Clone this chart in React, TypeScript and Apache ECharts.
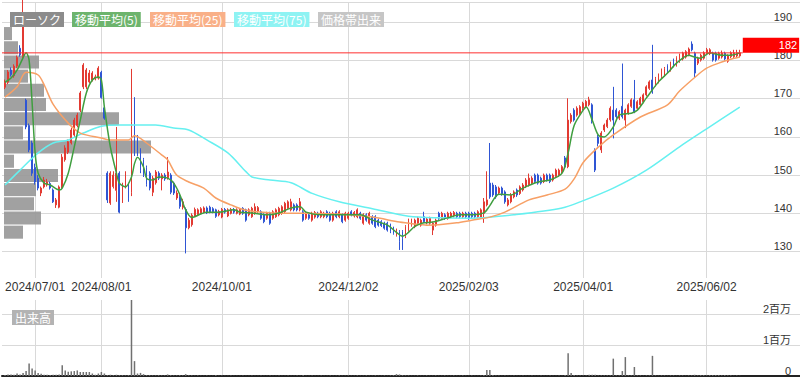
import React, { useEffect, useRef } from 'react';
import * as echarts from 'echarts';

// ---- calendar (TSE trading days) ----
const HOLIDAYS = [
  '2024/07/15', '2024/08/12', '2024/09/16', '2024/09/23', '2024/10/14', '2024/11/04',
  '2024/12/31', '2025/01/01', '2025/01/02', '2025/01/03', '2025/01/13', '2025/02/11',
  '2025/02/24', '2025/03/20', '2025/04/29', '2025/05/05', '2025/05/06',
];
const N_DAYS = 245;
const LABEL_DATES = ['2024/07/01', '2024/08/01', '2024/10/01', '2024/12/02', '2025/02/03', '2025/04/01', '2025/06/02'];

// ---- daily candles [open, close, low, high] ----
const ohlc: number[][] = [
  [173.0,174.3,172.5,175.0],[174.3,177.0,173.8,177.5],[177.5,176.3,175.8,178.2],[176.0,178.5,175.5,179.0],[178.5,180.8,178.0,181.3],
  [183.2,181.5,181.0,184.0],[181.0,188.8,180.5,199.0],[169.6,162.6,162.0,170.0],[163.0,156.6,156.0,163.5],[158.4,150.5,149.8,159.0],
  [152.0,148.2,147.5,153.0],[149.2,146.6,146.0,150.0],[145.3,146.6,144.5,147.0],[146.9,148.7,146.5,149.5],[147.4,148.2,147.0,149.0],
  [147.8,146.6,146.2,148.3],[146.1,143.0,142.7,146.5],[142.2,143.5,141.4,144.0],[141.6,146.9,141.3,147.3],[146.9,154.7,146.5,155.5],
  [154.0,157.1,153.5,157.8],[156.0,158.7,155.5,159.3],[158.4,161.8,158.0,162.4],[160.5,164.4,160.0,165.0],[163.0,165.7,162.5,166.3],
  [167.0,171.5,166.5,172.0],[173.1,178.8,172.5,179.3],[173.1,177.5,172.5,178.0],[174.4,176.7,174.0,177.5],[174.9,176.7,174.5,177.2],
  [175.2,175.7,174.8,176.3],[175.4,178.0,175.0,178.5],[176.9,170.3,170.0,177.3],[167.6,164.9,164.5,168.0],[150.5,143.5,142.7,151.0],
  [142.7,150.5,142.2,151.0],[147.0,150.0,146.5,151.0],[146.0,150.5,143.0,162.6],[150.5,140.3,140.0,151.0],[143.5,147.4,142.7,148.0],
  [146.9,150.5,146.5,151.0],[147.4,143.8,143.0,148.0],[145.5,164.0,144.5,177.8],[159.5,155.8,155.0,170.4],[159.8,155.8,155.0,160.5],
  [156.6,151.3,150.5,157.0],[154.0,150.0,149.5,154.5],[152.0,147.6,147.0,152.5],[150.5,146.6,146.0,151.0],[145.5,149.2,144.5,149.8],
  [148.0,150.8,147.5,151.3],[150.5,149.2,148.7,151.0],[149.0,150.0,146.0,150.5],[150.0,149.0,148.5,150.5],[149.3,150.8,148.8,154.7],
  [150.0,145.5,145.0,150.5],[147.9,145.3,144.8,148.3],[144.0,145.3,143.5,146.0],[144.3,141.8,141.2,144.8],[141.6,143.0,141.0,143.8],
  [141.0,136.2,129.5,141.5],[136.2,138.2,135.8,138.8],[137.0,139.5,136.5,140.0],[139.3,141.0,139.0,141.5],[139.6,140.9,139.3,141.3],
  [140.1,141.2,139.8,141.6],[140.3,141.4,140.0,141.8],[141.4,140.1,139.8,141.8],[141.6,140.3,140.0,142.0],[141.2,140.4,140.0,141.6],
  [140.9,139.2,138.8,141.2],[139.6,140.5,139.2,140.9],[139.0,141.0,138.7,141.4],[141.0,140.3,139.9,141.4],[139.3,140.9,139.0,141.3],
  [140.0,141.0,139.7,141.4],[141.0,140.3,139.9,141.4],[140.0,140.9,139.7,141.3],[139.8,141.0,139.5,141.4],[141.3,140.0,139.6,141.6],
  [140.9,138.2,137.8,141.2],[139.6,140.9,139.2,141.3],[139.1,141.3,138.8,141.7],[140.0,141.7,139.6,142.6],[140.5,141.5,140.1,141.9],
  [140.4,138.7,138.3,140.8],[139.6,137.8,137.4,140.0],[138.7,140.0,138.3,140.4],[140.0,137.4,137.0,140.4],[138.7,140.4,138.3,140.8],
  [139.1,140.9,138.8,141.3],[139.6,141.3,139.2,141.7],[140.0,141.7,139.6,142.1],[140.4,142.6,140.0,143.0],[141.3,143.0,140.9,143.4],
  [140.9,143.0,140.5,143.8],[142.2,140.9,140.5,142.6],[142.2,140.9,140.5,142.6],[140.9,143.0,140.5,144.0],[140.4,138.2,137.8,140.8],
  [138.7,140.0,138.3,140.4],[139.6,138.7,138.3,140.0],[138.2,140.0,137.8,140.4],[139.0,140.2,138.6,140.6],[140.0,139.1,138.7,140.4],
  [139.1,140.4,138.7,140.8],[139.1,140.0,138.7,140.4],[140.4,139.1,138.7,140.8],[140.0,138.2,137.8,140.4],[138.2,140.0,137.8,140.4],
  [140.4,139.1,138.7,140.8],[139.1,140.4,138.7,140.8],[139.6,137.8,137.4,140.0],[138.2,140.0,137.8,140.4],[138.7,140.0,138.3,140.4],
  [140.4,139.6,139.2,140.8],[139.3,140.2,138.9,140.6],[139.1,140.9,138.7,141.3],[140.0,138.7,138.3,140.4],[137.4,139.6,137.0,140.0],
  [139.6,138.2,137.8,140.0],[137.4,140.0,137.0,140.4],[139.1,137.4,137.0,139.5],[139.1,136.5,136.1,139.5],[138.2,136.9,136.5,138.6],
  [137.8,136.8,136.4,138.2],[137.4,136.1,135.7,137.8],[137.4,135.6,135.2,137.8],[136.9,135.2,134.8,137.3],[136.1,134.8,134.4,136.5],
  [134.3,135.6,133.9,136.0],[135.2,132.6,130.4,135.6],[135.2,133.5,130.4,135.6],[133.9,136.5,133.5,136.9],[135.6,138.2,135.2,138.6],
  [136.9,138.2,136.5,138.6],[136.5,138.2,136.1,138.6],[137.4,138.7,137.0,139.1],[136.9,138.2,136.5,138.6],[139.1,137.8,137.4,140.4],
  [137.5,138.5,137.1,138.9],[137.4,138.7,137.0,139.1],[135.6,137.4,134.3,137.8],[136.9,138.2,136.5,138.6],[140.0,138.7,138.3,140.4],
  [138.7,140.0,138.3,140.4],[139.6,138.7,138.3,140.0],[138.7,140.0,138.3,140.4],[139.1,140.0,138.7,140.4],[139.3,140.2,138.9,140.6],
  [140.0,139.1,138.7,140.4],[140.0,139.1,138.7,140.4],[139.1,140.0,138.7,140.4],[140.0,139.1,138.7,140.4],[140.0,138.7,138.3,140.4],
  [140.0,139.1,138.7,140.4],[140.0,139.1,138.7,140.4],[139.1,140.4,138.7,140.8],[139.0,140.9,138.6,141.3],[140.0,143.0,137.5,144.0],
  [142.2,143.5,141.8,151.0],[147.9,144.3,143.8,158.4],[147.4,144.8,144.3,148.0],[146.9,144.3,143.8,147.4],[145.3,146.6,144.8,147.0],
  [146.6,145.1,144.6,147.0],[145.6,143.0,142.5,146.0],[142.2,143.5,141.8,144.0],[143.0,144.8,142.6,145.3],[144.3,145.6,143.9,146.0],
  [146.1,144.8,144.3,146.5],[145.2,146.9,144.8,147.3],[146.1,147.4,145.7,147.9],[147.0,148.7,146.6,149.2],[147.4,149.2,147.0,150.4],
  [147.9,149.2,147.5,149.7],[150.0,148.3,147.9,150.4],[150.0,147.9,147.5,150.4],[149.2,147.9,147.5,149.6],[148.3,150.0,147.9,150.4],
  [150.0,148.7,148.3,150.4],[150.0,148.3,147.9,150.4],[148.7,150.0,148.3,150.4],[149.6,151.3,149.2,151.7],[150.0,151.3,149.6,151.7],
  [150.9,152.2,150.5,152.6],[154.5,152.1,151.8,155.0],[152.2,164.4,151.8,170.1],[164.0,165.7,163.5,166.2],[167.0,164.4,164.0,167.5],
  [165.7,167.5,165.3,168.0],[166.2,167.9,165.8,168.3],[167.5,168.8,167.0,169.2],[167.9,169.3,167.5,169.7],[168.4,169.7,168.0,170.5],
  [168.4,164.0,163.5,168.8],[156.6,151.3,150.8,157.0],[160.0,158.3,157.5,160.5],[156.6,161.0,155.8,161.5],[161.8,163.1,161.3,163.5],
  [162.7,164.4,162.3,164.9],[164.5,167.5,164.0,168.0],[167.0,164.4,159.6,173.1],[167.0,165.3,164.8,167.5],[164.9,166.6,164.4,167.0],
  [168.0,165.3,164.8,179.2],[164.4,167.0,162.3,167.4],[166.2,168.4,165.8,168.8],[168.0,169.7,167.6,170.1],[169.7,166.6,166.2,174.9],
  [167.5,169.2,167.1,169.6],[168.4,170.1,168.0,170.5],[169.2,171.0,168.8,171.4],[171.0,173.1,170.6,173.5],[172.7,174.4,172.3,174.8],
  [174.9,171.8,171.3,184.1],[173.6,175.3,173.2,175.7],[174.4,176.2,174.0,176.6],[175.8,177.5,175.4,177.9],[176.2,177.9,175.8,178.3],
  [178.6,177.1,176.7,179.0],[177.5,179.3,177.1,179.7],[180.1,178.6,178.2,180.5],[178.8,180.7,178.4,181.1],[179.8,181.4,179.4,181.8],
  [180.4,181.9,180.0,182.3],[180.9,182.3,180.5,182.7],[181.5,183.0,181.1,183.4],[184.3,182.8,182.4,185.0],[181.9,176.7,175.5,182.3],
  [179.3,180.6,178.8,181.0],[180.1,181.4,179.7,181.8],[180.6,182.0,180.2,182.4],[182.0,182.8,181.6,183.3],[181.8,182.8,181.4,183.2],
  [181.9,180.1,179.7,182.3],[181.9,180.1,179.7,182.3],[180.6,181.9,180.2,182.3],[180.9,181.9,180.5,182.6],[181.9,180.4,180.0,182.3],
  [179.8,181.2,179.4,181.6],[181.0,182.0,180.6,182.4],[181.0,182.0,180.6,182.8],[181.2,182.0,180.8,182.8],[181.2,182.0,180.8,182.8],
];

// ---- daily volume (百万株) ----
const volumes: number[] = [
  0.03,0.05,0.05,0.04,0.08,0.05,0.10,0.16,0.40,0.24,
  0.18,0.10,0.07,0.04,0.04,0.03,0.04,0.04,0.05,0.35,
  0.18,0.14,0.15,0.16,0.18,0.13,0.13,0.13,0.13,0.08,
  0.04,0.08,0.13,0.08,0.03,0.04,0.03,0.04,0.03,0.03,
  0.02,0.03,2.60,0.48,0.08,0.10,0.06,0.03,0.03,0.02,
  0.02,0.03,0.02,0.02,0.05,0.03,0.02,0.02,0.03,0.02,
  0.06,0.02,0.02,0.01,0.02,0.01,0.01,0.02,0.01,0.01,
  0.03,0.01,0.02,0.01,0.01,0.02,0.01,0.01,0.01,0.02,
  0.01,0.01,0.02,0.01,0.01,0.02,0.01,0.01,0.02,0.01,
  0.01,0.02,0.01,0.01,0.02,0.01,0.01,0.02,0.01,0.03,
  0.01,0.01,0.02,0.01,0.01,0.02,0.01,0.01,0.02,0.01,
  0.01,0.02,0.01,0.01,0.02,0.01,0.01,0.02,0.01,0.01,
  0.02,0.01,0.01,0.02,0.01,0.01,0.02,0.01,0.02,0.03,
  0.06,0.05,0.03,0.02,0.02,0.01,0.01,0.02,0.01,0.01,
  0.02,0.01,0.01,0.02,0.01,0.01,0.02,0.01,0.01,0.02,
  0.01,0.01,0.02,0.01,0.01,0.02,0.01,0.01,0.02,0.03,
  0.19,0.19,0.03,0.02,0.02,0.01,0.02,0.01,0.01,0.02,
  0.01,0.01,0.02,0.01,0.01,0.02,0.01,0.01,0.02,0.01,
  0.01,0.02,0.01,0.01,0.02,0.01,0.03,0.73,0.10,0.03,
  0.02,0.02,0.02,0.02,0.04,0.04,0.04,0.02,0.02,0.02,
  0.02,0.02,0.56,0.02,0.02,0.16,0.61,0.02,0.02,0.29,
  0.02,0.02,0.01,0.02,0.02,0.65,0.02,0.01,0.02,0.02,
  0.01,0.02,0.02,0.01,0.02,0.02,0.01,0.02,0.02,0.04,
  0.02,0.03,0.03,0.02,0.03,0.03,0.03,0.03,0.02,0.03,
  0.02,0.02,0.01,0.02,0.01,
];

// ---- moving averages: [dayIndex, value] ----
const ma5Pts: number[][] = [
  [0,174.3],[2,175.4],[4,177.5],[6,180.7],[7,182.0],[8,180.1],[9,168.9],[10,155.8],[11,150.5],[13,147.9],
  [15,147.4],[18,146.1],[19,146.6],[21,150.5],[23,157.4],[25,164.4],[27,171.5],[29,174.9],[31,175.7],[32,174.9],
  [33,167.8],[35,157.3],[37,150.5],[38,147.9],[40,146.9],[42,149.5],[43,153.0],[44,154.7],[46,152.1],[47,149.2],
  [49,148.7],[51,149.5],[54,149.2],[56,147.9],[58,145.0],[60,140.9],[62,138.9],[65,139.8],[67,140.3],[71,140.3],
  [76,140.9],[78,140.3],[82,140.1],[87,139.6],[91,140.1],[95,141.4],[98,141.7],[100,140.3],[105,139.6],[114,139.6],
  [118,139.6],[122,138.2],[127,136.9],[130,135.0],[132,134.0],[134,135.0],[136,136.5],[139,137.5],[142,137.7],[147,138.8],
  [151,139.6],[155,139.6],[159,140.1],[161,142.0],[164,145.0],[168,144.8],[172,146.6],[177,148.2],[181,148.7],[185,150.5],
  [187,155.8],[189,163.0],[192,167.0],[193,167.8],[195,164.4],[197,160.5],[199,160.0],[202,162.6],[204,165.7],[208,166.2],
  [210,167.0],[213,170.2],[217,174.4],[220,176.7],[223,179.3],[227,181.4],[229,180.9],[231,180.6],[234,182.0],[238,181.4],
  [241,181.4],[244,182.0],
];
const ma25Pts: number[][] = [
  [0,170.4],[4,173.1],[7,176.9],[11,176.2],[13,173.6],[16,168.5],[21,163.6],[25,161.0],[32,159.7],[35,159.2],
  [41,159.2],[43,160.3],[47,158.4],[52,155.3],[54,154.0],[57,150.0],[61,148.2],[66,146.6],[70,144.0],[75,142.2],
  [80,140.8],[89,140.1],[100,140.0],[111,139.8],[122,139.0],[131,137.7],[136,137.2],[140,136.9],[144,137.0],[150,137.5],
  [155,138.2],[161,139.0],[166,140.3],[174,143.5],[180,144.8],[186,146.3],[189,149.0],[192,153.3],[197,157.3],[202,160.5],
  [211,165.2],[220,168.4],[224,172.0],[230,176.2],[233,178.0],[237,179.3],[241,180.3],[244,180.9],
];
const ma75Pts: number[][] = [
  [0,147.4],[5,151.3],[11,155.8],[16,158.4],[21,159.2],[26,161.0],[32,162.8],[38,163.1],[50,163.1],[56,162.3],
  [61,161.8],[67,159.2],[74,155.8],[80,150.9],[82,149.5],[88,148.7],[95,148.0],[102,145.2],[111,143.0],[122,141.2],
  [134,139.2],[145,138.8],[155,138.7],[158,138.8],[169,139.6],[185,141.4],[191,143.0],[202,146.6],[213,151.3],[224,157.4],
  [233,162.1],[244,167.8],
];

// ---- price-band volume (価格帯出来高), bottom band first ----
const pbvLow = 133.2;
const pbvHigh = 188.9;
const pbvVolume: number[] = [19, 37, 30, 32, 54, 10, 147, 19, 115, 42, 40, 24, 35, 14, 8];

// ---- scale settings ----
const P_MIN = 123.06;
const P_MAX = 195.31;
const V_MAX = 2.452;
const GRID_TOP = 2;
const GRID_H = 276;
const FONT = '"Liberation Sans", Arial, "Noto Sans CJK JP", sans-serif';
const JP = '"Noto Sans CJK JP", "Liberation Sans", sans-serif';

function tradingDays(): string[] {
  const out: string[] = [];
  const d = new Date(Date.UTC(2024, 5, 17));
  while (out.length < N_DAYS) {
    const wd = d.getUTCDay();
    const s = `${d.getUTCFullYear()}/${String(d.getUTCMonth() + 1).padStart(2, '0')}/${String(d.getUTCDate()).padStart(2, '0')}`;
    if (wd !== 0 && wd !== 6 && !HOLIDAYS.includes(s)) out.push(s);
    d.setUTCDate(d.getUTCDate() + 1);
  }
  return out;
}

export default function App() {
  const ref = useRef<HTMLDivElement>(null);
  useEffect(() => {
    if (!ref.current) return;
    const chart = echarts.init(ref.current, undefined, { renderer: 'svg' });
    const dates = tradingDays();
    const categories = ['lead', ...dates, ...Array.from({ length: 20 }, (_, i) => `pad${i}`)];
    const idx = (d: number) => d + 1;
    const isLabel = (_i: number, v: string) => LABEL_DATES.includes(v);
    const pxOf = (p: number) => GRID_TOP + ((P_MAX - p) / (P_MAX - P_MIN)) * GRID_H;
    const pbvTop = pxOf(pbvHigh);
    const pbvH = pxOf(pbvLow) - pbvTop;
    const pbvBins = pbvVolume.map((_, i) => `bin${i}`);
    const lastIdx = ohlc.length - 1;
    const lastClose = ohlc[lastIdx][1];
    const maLine = (pts: number[][], color: string) => ({
      type: 'line', xAxisIndex: 0, yAxisIndex: 0, data: pts.map(([d, v]) => [idx(d), v]),
      showSymbol: false, symbol: 'none', smooth: 0.3, silent: true, z: 4,
      lineStyle: { color, width: 1.5 },
    });
    const tag = (text: string, left: number, top: number, bg: string) => ({
      type: 'text', left, top, z: 100, silent: true,
      style: { text, fill: '#fff', backgroundColor: bg, padding: [1, 3, 1, 3], font: `12px ${JP}`, lineHeight: 13 },
    });
    const grid = '#d9d9d9';
    const option: any = {
      animation: false,
      textStyle: { fontFamily: FONT },
      grid: [
        { left: 2, right: 0, top: GRID_TOP, height: GRID_H },
        { left: 2, right: 0, top: 300, height: 76 },
        { left: 4, right: 0, top: pbvTop, height: pbvH },
      ],
      xAxis: [
        {
          type: 'category', gridIndex: 0, data: categories, boundaryGap: false,
          axisLine: { show: false }, axisTick: { show: false },
          axisLabel: { interval: isLabel, color: '#333', fontSize: 12, margin: 3, fontFamily: FONT },
          splitLine: { show: true, interval: isLabel, lineStyle: { color: grid, width: 1 } },
        },
        {
          type: 'category', gridIndex: 1, data: categories, boundaryGap: false, position: 'top',
          axisLine: { show: true, lineStyle: { color: '#222', width: 2 } }, axisTick: { show: false },
          axisLabel: { show: false },
          splitLine: { show: true, interval: isLabel, lineStyle: { color: grid, width: 1 } },
        },
        { type: 'value', gridIndex: 2, min: 0, max: 796, show: false },
      ],
      yAxis: [
        {
          type: 'value', gridIndex: 0, position: 'right', min: P_MIN, max: P_MAX, splitNumber: 7, scale: true,
          axisLine: { show: false }, axisTick: { show: false },
          axisLabel: { inside: true, align: 'right', verticalAlign: 'bottom', margin: 8, fontSize: 11, color: '#333', showMinLabel: false, showMaxLabel: false, fontFamily: FONT },
          splitLine: { show: true, showMinLine: false, lineStyle: { color: grid, width: 1 } },
        },
        {
          type: 'value', gridIndex: 1, position: 'right', min: 0, max: V_MAX, splitNumber: 2,
          axisLine: { show: false }, axisTick: { show: false },
          axisLabel: {
            inside: true, align: 'right', verticalAlign: 'bottom', margin: 9, fontSize: 11, color: '#333', showMaxLabel: false,
            fontFamily: FONT, formatter: (v: number) => (v === 0 ? '0' : `${v}百万`),
          },
          splitLine: { show: true, showMaxLine: false, lineStyle: { color: grid, width: 1 } },
        },
        { type: 'category', gridIndex: 2, data: pbvBins, show: false },
      ],
      series: [
        {
          type: 'bar', xAxisIndex: 2, yAxisIndex: 2, data: pbvVolume, barCategoryGap: '8%', silent: true, z: 1,
          itemStyle: { color: '#999999', opacity: 0.92 },
        },
        {
          type: 'candlestick', xAxisIndex: 0, yAxisIndex: 0, z: 3, silent: true,
          data: ohlc.map((v, d) => [idx(d), v[0], v[1], v[2], v[3]]),
          encode: { x: 0, y: [1, 2, 3, 4] },
          barWidth: 1.4,
          itemStyle: { color: '#e23a32', color0: '#2f55d4', borderColor: '#e23a32', borderColor0: '#2f55d4', borderWidth: 1 },
        },
        maLine(ma75Pts, '#66f0f0'),
        maLine(ma25Pts, '#f7a066'),
        maLine(ma5Pts, '#3f9e3f'),
        {
          // last-price line with its price tag
          type: 'line', xAxisIndex: 0, yAxisIndex: 0, silent: true, z: 5,
          data: [[0, lastClose], [idx(lastIdx) + 1, lastClose]],
          showSymbol: false, symbol: 'none',
          lineStyle: { color: '#ff3030', width: 1 },
          endLabel: {
            show: true, formatter: String(Math.round(lastClose)), distance: 0, offset: [0, -7.5],
            color: '#fff', backgroundColor: '#ff0000', padding: [1, 2, 1, 36], fontSize: 11, lineHeight: 13, fontFamily: FONT,
          },
        },
        {
          type: 'bar', xAxisIndex: 1, yAxisIndex: 1, silent: true, barWidth: 1.5,
          data: volumes.map((v, d) => [idx(d), v]),
          itemStyle: { color: '#707070' },
        },
      ],
      graphic: [
        tag('ローソク', 10, 12, '#8c8c8c'),
        tag('移動平均(5)', 72, 12, '#6db46d'),
        tag('移動平均(25)', 150, 12, '#f9b088'),
        tag('移動平均(75)', 234, 12, '#8ef3f3'),
        tag('価格帯出来', 318, 12, '#c6c6c6'),
        tag('出来高', 12, 310, '#b3b3b3'),
      ],
    };
    chart.setOption(option);
    return () => chart.dispose();
  }, []);
  return <div ref={ref} style={{ position: 'absolute', left: 0, top: 0, width: 800, height: 378 }} />;
}
